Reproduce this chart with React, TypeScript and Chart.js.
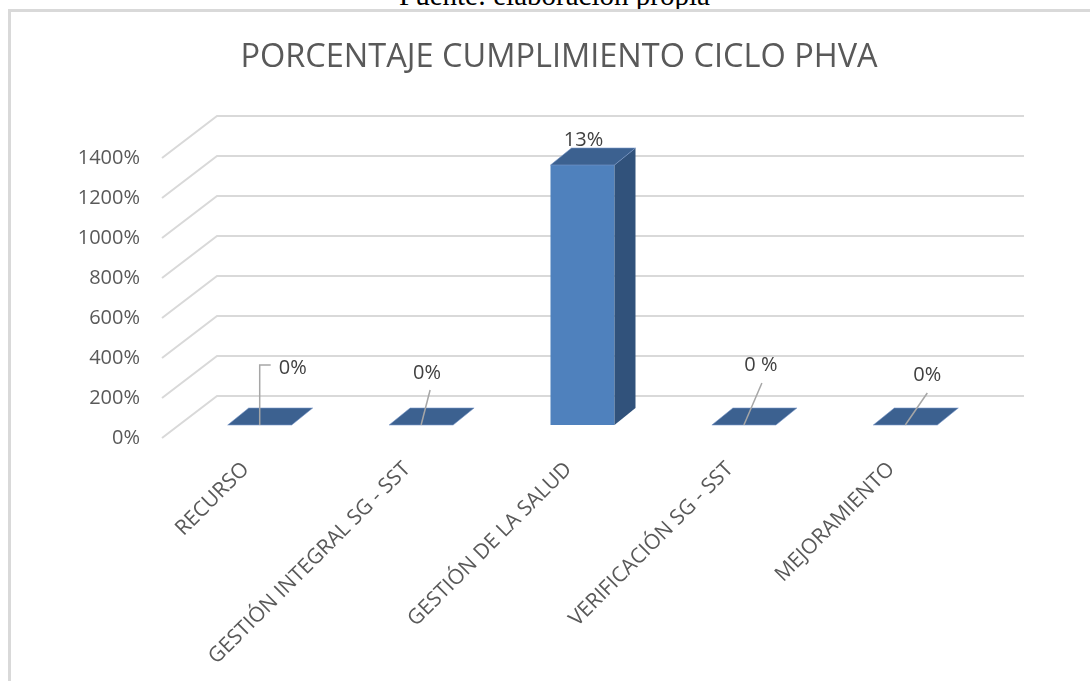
import React, { useEffect, useRef } from "react";
import { Chart, registerables } from "chart.js";

Chart.register(...registerables);

// ---- data ----
const categories = [
  "RECURSO",
  "GESTIÓN INTEGRAL SG - SST",
  "GESTIÓN DE LA SALUD",
  "VERIFICACIÓN SG - SST",
  "MEJORAMIENTO",
];
const values = [0, 0, 13, 0, 0];
const dataLabels = ["0%", "0%", "13%", "0 %", "0%"];
const yMin = 0;
const yMax = 14;
const yStep = 2;
const titleText = "PORCENTAJE CUMPLIMIENTO CICLO PHVA";
const sourceText = "Fuente: elaboración propia";

// ---- styling / layout ----
const FONT = "'Open Sans', 'Noto Sans', sans-serif";
const GRAY_TEXT = "#595959";
const LABEL_TEXT = "#404040";
const GRID = "#D9D9D9";
const FRONT_COLOR = "#4F81BD";
const TOP_COLOR = "#3C6190";
const SIDE_COLOR = "#31527B";
const DEPTH = { dx: 21, dy: -17 };
const WALL = { dx: 38, dy: -29 };
const FRONT = { dx: -17, dy: 13 };
const labelLayout = [
  { tx: 19, ty: -57, align: "left", leader: [[0, 0], [0, -60], [11, -60]] },
  { tx: 6, ty: -52, align: "center", leader: [[0, 0], [9, -35]] },
  { tx: 1, ty: -25, align: "center", leader: null },
  { tx: 17, ty: -60, align: "center", leader: [[0, 0], [18, -42]] },
  { tx: 22, ty: -50, align: "center", leader: [[0, 0], [22, -32]] },
];

const threeD = {
  id: "threeD",
  beforeDatasetsDraw(chart: any) {
    const { ctx, chartArea, scales } = chart;
    const y = scales.y;
    ctx.save();
    ctx.strokeStyle = GRID;
    ctx.lineWidth = 2;
    y.ticks.forEach((t: any) => {
      const py = y.getPixelForValue(t.value);
      ctx.beginPath();
      ctx.moveTo(chartArea.left + FRONT.dx, py + FRONT.dy);
      ctx.lineTo(chartArea.left + WALL.dx, py + WALL.dy);
      ctx.lineTo(chartArea.right + WALL.dx, py + WALL.dy);
      ctx.stroke();
    });
    ctx.restore();
  },
  afterDatasetsDraw(chart: any) {
    const { ctx } = chart;
    const meta = chart.getDatasetMeta(0);
    ctx.save();
    meta.data.forEach((bar: any, i: number) => {
      const { x, y, base, width } = bar.getProps(["x", "y", "base", "width"], true);
      const l = x - width / 2;
      const r = x + width / 2;
      // side face
      if (base - y > 0.5) {
        ctx.fillStyle = SIDE_COLOR;
        ctx.beginPath();
        ctx.moveTo(r, y);
        ctx.lineTo(r + DEPTH.dx, y + DEPTH.dy);
        ctx.lineTo(r + DEPTH.dx, base + DEPTH.dy);
        ctx.lineTo(r, base);
        ctx.closePath();
        ctx.fill();
      }
      // top face
      ctx.fillStyle = TOP_COLOR;
      ctx.beginPath();
      ctx.moveTo(l, y);
      ctx.lineTo(l + DEPTH.dx, y + DEPTH.dy);
      ctx.lineTo(r + DEPTH.dx, y + DEPTH.dy);
      ctx.lineTo(r, y);
      ctx.closePath();
      ctx.fill();
      ctx.strokeStyle = "rgba(120,150,200,0.6)";
      ctx.lineWidth = 1;
      ctx.stroke();

      const lay = labelLayout[i];
      if (lay.leader) {
        ctx.strokeStyle = "#A6A6A6";
        ctx.lineWidth = 1.5;
        ctx.beginPath();
        lay.leader.forEach((p: number[], k: number) => {
          if (k === 0) ctx.moveTo(x + p[0], y + p[1]);
          else ctx.lineTo(x + p[0], y + p[1]);
        });
        ctx.stroke();
      }
      ctx.fillStyle = LABEL_TEXT;
      ctx.font = `20px ${FONT}`;
      ctx.textBaseline = "middle";
      ctx.textAlign = lay.align as CanvasTextAlign;
      ctx.fillText(dataLabels[i], x + lay.tx, y + lay.ty);
    });
    ctx.restore();
  },
};

export default function App() {
  const ref = useRef<HTMLCanvasElement>(null);
  useEffect(() => {
    const chart = new Chart(ref.current as HTMLCanvasElement, {
      type: "bar",
      data: {
        labels: categories,
        datasets: [
          {
            data: values,
            backgroundColor: FRONT_COLOR,
            borderWidth: 0,
            barPercentage: 0.3965,
            categoryPercentage: 1,
            yAxisID: "y",
          },
        ],
      },
      options: {
        responsive: false,
        animation: false,
        layout: { padding: { left: 0, right: 0, top: 0, bottom: 0 } },
        plugins: {
          legend: { display: false },
          tooltip: { enabled: false },
          title: {
            display: true,
            text: titleText,
            color: GRAY_TEXT,
            font: { family: FONT, size: 32.5, weight: "normal" as any },
            padding: { top: 38, bottom: 68 },
          },
        },
        scales: {
          x: {
            grid: { display: false, drawTicks: false },
            border: { display: false },
            ticks: {
              autoSkip: false,
              maxRotation: 45,
              minRotation: 45,
              padding: 32,
              labelOffset: -14,
              color: GRAY_TEXT,
              font: { family: FONT, size: 21 },
            },
            afterFit(scale: any) {
              scale.height = 256;
            },
          },
          y: {
            min: yMin,
            max: yMax,
            grid: { display: false, drawTicks: false },
            border: { display: false },
            ticks: {
              stepSize: yStep,
              padding: 39,
              labelOffset: 13,
              color: GRAY_TEXT,
              font: { family: FONT, size: 20 },
              callback: (v: any) => `${Math.round(Number(v) * 100)}%`,
            },
            afterFit(scale: any) {
              scale.width = 170;
            },
          },
          yRight: {
            position: "right",
            display: true,
            grid: { display: false, drawTicks: false },
            border: { display: false },
            ticks: { display: false },
            afterFit(scale: any) {
              scale.width = 123;
            },
          },
        },
      },
      plugins: [threeD],
    });
    return () => chart.destroy();
  }, []);

  return (
    <div
      style={{
        position: "absolute",
        left: 0,
        top: 0,
        width: 1090,
        height: 681,
        overflow: "hidden",
        background: "#fff",
      }}
    >
      <div
        style={{
          position: "absolute",
          left: 399,
          top: -21,
          whiteSpace: "nowrap",
          font: "29px 'Liberation Serif', 'Times New Roman', serif",
          lineHeight: "32px",
          color: "#000",
        }}
      >
        {sourceText}
      </div>
      <div
        style={{
          position: "absolute",
          left: 8,
          top: 9,
          width: 1200,
          height: 800,
          borderLeft: "3px solid #D9D9D9",
          borderTop: "3px solid #D9D9D9",
        }}
      />
      <canvas
        ref={ref}
        width={1100}
        height={681}
        style={{ position: "absolute", left: 9, top: 0, width: 1100, height: 681 }}
      />
    </div>
  );
}
